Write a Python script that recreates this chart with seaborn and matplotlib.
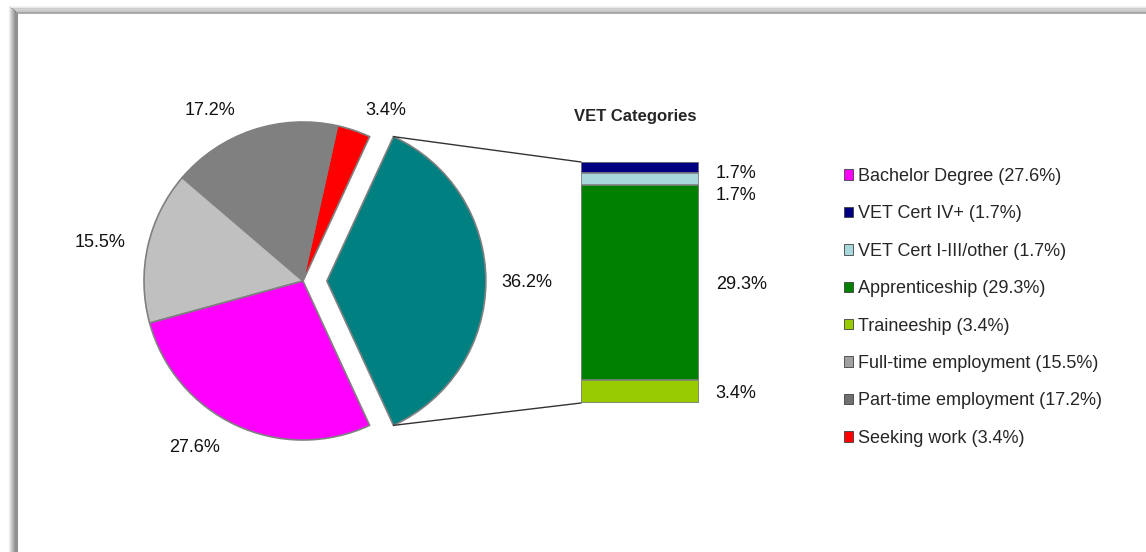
import matplotlib.pyplot as plt
import numpy as np
import pandas as pd
import seaborn as sns
from matplotlib.patches import Patch, ConnectionPatch
from matplotlib.lines import Line2D

# main pie (counter-clockwise from the exploded VET slice)
pie_labels = ["VET", "Seeking work", "Part-time employment", "Full-time employment", "Bachelor Degree"]
pie_values = [36.2, 3.4, 17.2, 15.5, 27.6]
pie_colors = ["#008080", "#FF0000", "#808080", "#C0C0C0", "#FF00FF"]

# VET breakdown, bottom to top
vet_labels = ["Traineeship", "Apprenticeship", "VET Cert I-III/other", "VET Cert IV+"]
vet_values = [3.4, 29.3, 1.7, 1.7]
vet_colors = ["#99CC00", "#008000", "#A8D8DC", "#000080"]

legend_labels = ["Bachelor Degree (27.6%)", "VET Cert IV+ (1.7%)", "VET Cert I-III/other (1.7%)",
                 "Apprenticeship (29.3%)", "Traineeship (3.4%)", "Full-time employment (15.5%)",
                 "Part-time employment (17.2%)", "Seeking work (3.4%)"]
legend_colors = ["#FF00FF", "#000080", "#A8D8DC", "#008000", "#99CC00", "#A0A0A0", "#707070", "#FF0000"]

sns.set_style("white")
plt.rcParams['font.family'] = ['Liberation Sans', 'DejaVu Sans']
FS = 13

W, H = 1146, 552
fig = plt.figure(figsize=(W / 100, H / 100), dpi=100)

# frame with a soft shadow on the left/top
for i, a in enumerate(np.linspace(0.05, 0.4, 8)):
    x = (9 + i) / W
    y = (H - 6 - i * 0.8) / H
    fig.add_artist(Line2D([x, x], [0, y], transform=fig.transFigure, color="black", alpha=a, lw=1))
    fig.add_artist(Line2D([x, 1], [y, y], transform=fig.transFigure, color="black", alpha=a * 0.5, lw=1))
fig.add_artist(Line2D([17 / W, 17 / W], [0, (H - 13) / H], transform=fig.transFigure, color="#909090", lw=1.5))
fig.add_artist(Line2D([17 / W, 1], [(H - 13) / H, (H - 13) / H], transform=fig.transFigure, color="#A0A0A0", lw=1.2))

# pie axes: centre at (303, 281) px, radius 159 px
R = 159
cx, cy = 303, H - 281
half = 240
ax_pie = fig.add_axes([(cx - half) / W, (cy - half) / H, 2 * half / W, 2 * half / H])
lim = half / R
total = sum(pie_values)
start = -pie_values[0] / total * 180
explode = [0.15, 0, 0, 0, 0]
wedges, texts, autotexts = ax_pie.pie(
    pie_values, colors=pie_colors, startangle=start, counterclock=True, explode=explode,
    autopct='%.1f%%', pctdistance=1.22,
    wedgeprops=dict(edgecolor="#808080", linewidth=1.2),
    textprops=dict(fontsize=FS, color="#111111"))
# Excel-style label placement (in pie radii)
label_pos = [(1.41, -0.01), (0.52, 1.075), (-0.585, 1.075), (-1.277, 0.24), (-0.68, -1.05)]
for t, p in zip(autotexts, label_pos):
    t.set_position(p)
ax_pie.set_xlim(-lim, lim)
ax_pie.set_ylim(-lim, lim)
ax_pie.set_aspect("equal")
ax_pie.axis("off")

# stacked bar of VET categories
bx0, bx1, by_top, by_bot = 581, 699, 162, 403
ax_bar = fig.add_axes([bx0 / W, (H - by_bot) / H, (bx1 - bx0) / W, (by_bot - by_top) / H])
cum = np.cumsum(vet_values)
df = pd.DataFrame({"cat": ["VET"] * len(vet_values), "cum": cum, "color": vet_colors})
for i in range(len(df) - 1, -1, -1):
    sns.barplot(x=[df["cat"][i]], y=[df["cum"][i]], color=df["color"][i], saturation=1,
                width=1, edgecolor="#808080", linewidth=1.2, ax=ax_bar)
ax_bar.set_xlim(-0.5, 0.5)
ax_bar.set_ylim(0, cum[-1])
ax_bar.axis("off")

offsets = [-1.5, -1.5, -12, -4]
bottoms = cum - np.array(vet_values)
for v, b, dy in zip(vet_values, bottoms, offsets):
    ax_bar.annotate(f"{v:.1f}%", xy=(1, b + v / 2), xycoords=("axes fraction", "data"),
                    xytext=(12, dy), textcoords="offset points", va="center", ha="left",
                    fontsize=FS, color="#111111", annotation_clip=False)

fig.text(635 / W, (H - 116) / H, "VET Categories", ha="center", va="center",
         fontsize=FS - 1, fontweight="bold")

# connector lines from the exploded wedge to the bar
th = np.deg2rad(pie_values[0] / total * 180)
for sgn, yb in [(1, 1), (-1, 0)]:
    tip = (explode[0] + np.cos(th), sgn * np.sin(th))
    con = ConnectionPatch(xyA=tip, coordsA=ax_pie.transData, xyB=(0, yb), coordsB=ax_bar.transAxes,
                          color="#333333", lw=1)
    fig.add_artist(con)

handles = [Patch(facecolor=c, edgecolor="#404040", linewidth=0.6) for c in legend_colors]
fig.legend(handles, legend_labels, loc="upper left", bbox_to_anchor=(844 / W, (H - 168) / H),
           frameon=False, fontsize=FS, handlelength=0.5, handleheight=0.5, handletextpad=0.25,
           labelspacing=1.13, borderpad=0, borderaxespad=0)

fig.savefig("out.png", dpi=100, facecolor="white")
